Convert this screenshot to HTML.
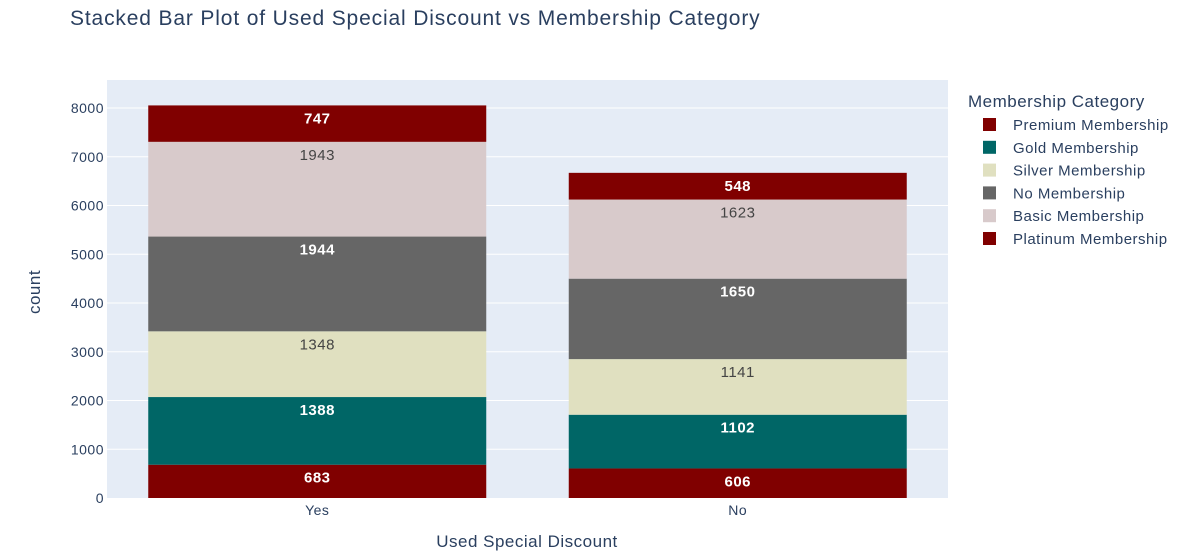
<!DOCTYPE html>
<html><head><meta charset="utf-8"><style>
body{margin:0;background:#fff;font-family:"Liberation Sans",sans-serif;}
text{letter-spacing:0.5px;}
</style></head><body>
<svg id="chart" width="1198" height="555" xmlns="http://www.w3.org/2000/svg" font-family="Liberation Sans, sans-serif">
<text x="70" y="25" font-size="21" fill="#2a3f5f" style="letter-spacing:0.85px">Stacked Bar Plot of Used Special Discount vs Membership Category</text>
<rect x="107" y="80" width="841" height="418" fill="#e5ecf6"/>
<g id="grid"></g><g id="bars"></g><g id="labels"></g><g id="axes"></g>
<text x="527" y="547" font-size="17" fill="#2a3f5f" text-anchor="middle">Used Special Discount</text>
<text x="0" y="0" font-size="17" fill="#2a3f5f" text-anchor="middle" transform="translate(40,292) rotate(-90)">count</text>
<text x="968" y="107" font-size="17" fill="#2a3f5f">Membership Category</text>
<g id="legend"></g>
</svg>
<script>
const categories=["Yes","No"];
const seriesNames=["Platinum Membership","Gold Membership","Silver Membership","No Membership","Basic Membership","Premium Membership"];
const platinum=[683,606];
const gold=[1388,1102];
const silver=[1348,1141];
const noMem=[1944,1650];
const basic=[1943,1623];
const premium=[747,548];
const yTicks=[0,1000,2000,3000,4000,5000,6000,7000,8000];
const legendOrder=[5,1,2,3,4,0];
const series=[platinum,gold,silver,noMem,basic,premium];
const colors=["#800000","#006666","#e0e0c0","#666666","#d8cacb","#800000"];
const textColors=["#fff","#fff","#444","#fff","#444","#fff"];
const NS="http://www.w3.org/2000/svg";
const x0=107,x1=948,y0=498,yPer=48.75/1000;
const band=(x1-x0)/categories.length,bw=338;
function y(v){return y0-v*yPer;}
function xc(i){return x0+band*(i+0.5);}
function mk(t,a,p){const e=document.createElementNS(NS,t);for(const k in a)e.setAttribute(k,a[k]);p.appendChild(e);return e;}
const grid=document.getElementById('grid'),axes=document.getElementById('axes');
yTicks.forEach(t=>{
 if(t>0){const l=mk('line',{x1:x0,x2:x1,y1:y(t),y2:y(t),stroke:'#fff','stroke-width':1},grid);
 
 }
 const tx=mk('text',{x:x0-3,y:y(t)+5,'font-size':14,fill:'#2a3f5f','text-anchor':'end'},axes);tx.textContent=t;
 
 
});
categories.forEach((c,i)=>{
 const tx=mk('text',{x:xc(i),y:515,'font-size':14,fill:'#2a3f5f','text-anchor':'middle'},axes);tx.textContent=c;
 
 
});
const bars=document.getElementById('bars'),labels=document.getElementById('labels');
categories.forEach((c,i)=>{
 let cum=0;
 series.forEach((s,k)=>{
  const v=s[i],top=y(cum+v),bot=y(cum);
  const r=mk('rect',{x:xc(i)-bw/2,y:top,width:bw,height:bot-top,fill:colors[k]},bars);
  
  
  const t=mk('text',{x:xc(i),y:top+18,'font-size':15,fill:textColors[k],'text-anchor':'middle','font-weight':textColors[k]=='#fff'?'bold':'normal'},labels);
  t.textContent=v;
  
  
  cum+=v;
 });
});
const lg=document.getElementById('legend');
legendOrder.forEach((k,j)=>{
 const yy=125+j*22.8;
 const g=mk('g',{},lg);
 
 
 mk('rect',{x:983,y:yy-7,width:13,height:13,fill:colors[k]},g);
 const t=mk('text',{x:1013,y:yy+5,'font-size':15,fill:'#2a3f5f'},g);t.textContent=seriesNames[k];
});
</script>
</body></html>
